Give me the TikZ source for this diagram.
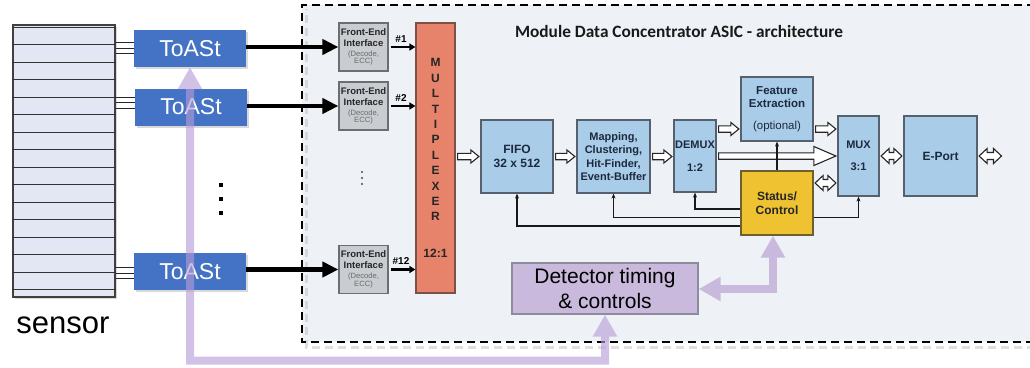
\documentclass[tikz,border=0pt]{standalone}
\usepackage{fontspec}
\setmainfont{Liberation Sans}
\newfontfamily\titlefont{Carlito}
\usetikzlibrary{arrows.meta,calc,shadows}

\definecolor{bgpanel}{HTML}{EEF2F6}
\definecolor{toastblue}{HTML}{4472C4}
\definecolor{sensorfill}{HTML}{E3E7F3}
\definecolor{fefill}{HTML}{C9CCD0}
\definecolor{feedge}{HTML}{6B6E72}
\definecolor{fegray}{HTML}{6A6A6A}
\definecolor{mplxfill}{HTML}{E8836B}
\definecolor{mplxedge}{HTML}{7A5048}
\definecolor{blkfill}{HTML}{A9CCE9}
\definecolor{blkedge}{HTML}{56616D}
\definecolor{blktext}{HTML}{1C2A3E}
\definecolor{statfill}{HTML}{EFC232}
\definecolor{statedge}{HTML}{6D6030}
\definecolor{detfill}{HTML}{C9B9DD}
\definecolor{detedge}{HTML}{8C8C9C}
\definecolor{purp}{HTML}{B79BD6}

% horizontal hollow block arrow, single head
\newcommand{\harrowR}[4]{\draw[hollow] let \p1=#1, \p2=#2 in
  ({\x1+2pt},{\y1+3.2pt}) -- ({\x2-1.5pt-#3},{\y1+3.2pt}) -- ({\x2-1.5pt-#3},{\y1+#4})
  -- ({\x2-1.5pt},\y1) -- ({\x2-1.5pt-#3},{\y1-#4}) -- ({\x2-1.5pt-#3},{\y1-3.2pt})
  -- ({\x1+2pt},{\y1-3.2pt}) -- cycle;}
% horizontal hollow block arrow, heads at both ends
\newcommand{\harrowLR}[4]{\draw[hollow] let \p1=#1, \p2=#2 in
  ({\x1+1.5pt},\y1) -- ({\x1+1.5pt+#3},{\y1+#4}) -- ({\x1+1.5pt+#3},{\y1+3.5pt})
  -- ({\x2-1.5pt-#3},{\y1+3.5pt}) -- ({\x2-1.5pt-#3},{\y1+#4}) -- ({\x2-1.5pt},\y1)
  -- ({\x2-1.5pt-#3},{\y1-#4}) -- ({\x2-1.5pt-#3},{\y1-3.5pt}) -- ({\x1+1.5pt+#3},{\y1-3.5pt})
  -- ({\x1+1.5pt+#3},{\y1-#4}) -- cycle;}

\tikzset{
  toast/.style={fill=toastblue, draw=none, text=white, inner sep=0pt,
    minimum width=112pt, minimum height=37pt, font=\fontsize{23}{26}\selectfont,
    drop shadow={opacity=0.3, shadow xshift=2pt, shadow yshift=-2pt}},
  febox/.style={fill=fefill, draw=feedge, line width=1.2pt, inner sep=0pt,
    minimum width=49pt, minimum height=48pt, align=center, text=black!85,
    font=\fontsize{7.6}{7.4}\selectfont},
  blk/.style={fill=blkfill, draw=blkedge, line width=1.2pt, inner sep=0pt, align=center,
    text=blktext, font=\bfseries\fontsize{11}{13.5}\selectfont},
  hollow/.style={draw=black!85, fill=white, line width=1.1pt, line join=miter},
  fb/.style={draw=black!90, line width=1.5pt, -{Stealth[length=5pt,width=4pt]}},
  bigarr/.style={line width=4.5pt, -{Triangle[length=16pt,width=15pt]}},
  smallarr/.style={line width=2.5pt, -{Triangle[length=6pt,width=7pt]}, shorten <=2pt},
  wire/.style={line width=0.9pt, draw=black!85},
  purpline/.style={draw=purp, line width=8pt, line join=miter,
    {Triangle[length=22pt,width=23pt]}-{Triangle[length=22pt,width=23pt]}},
  lbl/.style={font=\bfseries\fontsize{10}{12}\selectfont, inner sep=0pt}
}

\begin{document}
\begin{tikzpicture}[x=1pt,y=-1pt]
\useasboundingbox (0,0) rectangle (1030,367);

% ASIC panel
\fill[bgpanel] (302,5) rectangle (1035,342);
\draw[black!25, opacity=0.5, line width=3pt, dash pattern=on 8pt off 5pt]
  (1035,347) -- (306,347) -- (306,9);
\draw[black, line width=2.3pt, dash pattern=on 8pt off 5pt]
  (1035,5) -- (302,5) -- (302,342) -- (1035,342);

% sensor
\node[fill=sensorfill, draw=black!75, line width=1.3pt, minimum width=102pt, minimum height=272pt,
  inner sep=0pt, drop shadow={opacity=0.3, shadow xshift=2pt, shadow yshift=-2pt}] (sensor) at (64,161) {};
\foreach \k in {0,...,15}
  \draw[line width=0.9pt, black!80] ($(sensor.north west)+(0,{3+17.5*\k})$) -- ($(sensor.north east)+(0,{3+17.5*\k})$);
\node[font=\fontsize{31}{34}\selectfont, inner sep=0pt] (sensorlbl) at (63,325) {sensor};

% ToASt chips
\node[toast] (t1) at (190,48.5) {ToASt};
\node[toast] (t2) at (191,107) {ToASt};
\node[toast] (t3) at (190,271.5) {ToASt};
\foreach \d in {-6.5,-0.5,4.5} {\path ($(t1.west)+(0,\d)$) coordinate (p); \draw[wire] (p) -- (p -| sensor.east);}
\foreach \d in {-10,-4.5,1.5} {\path ($(t2.west)+(0,\d)$) coordinate (p); \draw[wire] (p) -- (p -| sensor.east);}
\foreach \d in {-4.5,1.5,6.5} {\path ($(t3.west)+(0,\d)$) coordinate (p); \draw[wire] (p) -- (p -| sensor.east);}
\foreach \yy in {185,199,213} \fill (219,\yy-2) rectangle (223,\yy+2);

% front-end interfaces
\node[febox] (fe1) at (363.5,47) {\fontsize{9.5}{10}\selectfont\bfseries Front-End\\[3.4pt]\fontsize{9.5}{10}\selectfont\bfseries Interface\\[2.8pt]\color{fegray}(Decode,\\\color{fegray}ECC)};
\node[febox] (fe2) at (363.5,106) {\fontsize{9.5}{10}\selectfont\bfseries Front-End\\[3.4pt]\fontsize{9.5}{10}\selectfont\bfseries Interface\\[2.8pt]\color{fegray}(Decode,\\\color{fegray}ECC)};
\node[febox] (fe3) at (363.5,269.5) {\fontsize{9.5}{10}\selectfont\bfseries Front-End\\[3.4pt]\fontsize{9.5}{10}\selectfont\bfseries Interface\\[2.8pt]\color{fegray}(Decode,\\\color{fegray}ECC)};
\foreach \yy in {172,178,184} \fill[black!70] (362,\yy) circle (1.1pt);

% multiplexer
\node[fill=mplxfill, draw=mplxedge, line width=1.2pt, minimum width=39pt, minimum height=270pt,
  inner sep=0pt, align=center, text=black!85, font=\bfseries\fontsize{12}{15.4}\selectfont] (mplx) at (435.5,158)
  {M\\U\\L\\T\\I\\P\\L\\E\\X\\E\\R\\[21pt]12:1};

% thick links into the front-ends
\draw[bigarr] (t1.east |- fe1.west) -- (fe1.west);
\draw[bigarr] (t2.east |- fe2.west) -- (fe2.west);
\draw[bigarr] (t3.east |- fe3.west) -- (fe3.west);
\draw[smallarr] (fe1.east) -- (fe1.east -| mplx.west);
\draw[smallarr] (fe2.east) -- (fe2.east -| mplx.west);
\draw[smallarr] (fe3.east) -- (fe3.east -| mplx.west);
\node[lbl] (n1) at (401,39) {\#1};
\node[lbl] (n2) at (401,98) {\#2};
\node[lbl] (n12) at (401,261) {\#12};

% title
\node[font=\titlefont\bfseries\fontsize{17.3}{20}\selectfont, text=black!90] (title) at (679,31)
  {Module Data Concentrator ASIC - architecture};

% processing blocks
\node[blk, minimum width=72pt, minimum height=73pt, font=\bfseries\fontsize{12}{14}\selectfont] (fifo) at (517,156.5) {FIFO\\32 x 512};
\node[blk, minimum width=73pt, minimum height=73pt] (map) at (613.5,156.5) {Mapping,\\Clustering,\\Hit-Finder,\\Event-Buffer};
\node[blk, minimum width=42pt, minimum height=72pt] (demux) at (695,156) {DEMUX\\[9pt]1:2};
\node[blk, minimum width=72pt, minimum height=64pt, font=\bfseries\fontsize{11.5}{13}\selectfont] (feat) at (777,109)
  {Feature\\Extraction\\[8.5pt]\mdseries (optional)};
\node[blk, minimum width=41pt, minimum height=80pt] (mux3) at (858.5,156) {MUX\\[9pt]3:1};
\node[blk, minimum width=73pt, minimum height=80pt, font=\bfseries\fontsize{12}{14}\selectfont] (eport) at (940.5,156) {E-Port};
\node[blk, fill=statfill, draw=statedge, text=black!85, minimum width=72pt, minimum height=64pt,
  font=\bfseries\fontsize{12}{13.5}\selectfont] (status) at (777,203) {Status/\\Control};
\node[fill=detfill, draw=detedge, line width=1.2pt, minimum width=186pt, minimum height=51pt, inner sep=0pt,
  align=center, font=\fontsize{21}{25}\selectfont] (det) at (605,288.5) {Detector timing\\\& controls};

% reference rows and outer port
\coordinate (rowA) at (0,129);
\coordinate (rowS) at (0,183);
\coordinate (rowD) at (0,209);
\coordinate (rowM) at (0,217.5);
\coordinate (rowF) at (0,226);
\coordinate (ext) at (1003,156);

% hollow data-flow arrows
\harrowR{(mplx.east |- fifo.west)}{(fifo.west)}{8pt}{6.5pt}
\harrowR{(fifo.east)}{(map.west)}{8pt}{6.5pt}
\harrowR{(map.east)}{(demux.west)}{8pt}{6.5pt}
\harrowR{(demux.east |- rowA)}{(feat.west |- rowA)}{8pt}{6.5pt}
\harrowR{(feat.east |- rowA)}{(mux3.west |- rowA)}{8pt}{6.5pt}
\harrowR{(demux.east |- mux3.west)}{(mux3.west)}{22pt}{9.5pt}
\harrowLR{(status.east |- rowS)}{(mux3.west |- rowS)}{8pt}{7.5pt}
\harrowLR{(mux3.east)}{(eport.west)}{8pt}{7.5pt}
\harrowLR{(eport.east)}{(ext)}{8pt}{7.5pt}

% control lines
\draw[fb] (status.north) -- (feat.south);
\draw[fb] (status.west |- rowD) -| (demux.south);
\draw[fb] (status.west |- rowM) -| (map.south);
\draw[fb] (status.west |- rowF) -| (fifo.south);
\draw[fb] (status.east |- rowM) -| (mux3.south);

% timing and control distribution
\begin{scope}[transparency group, opacity=0.62]
\draw[purpline] (t1.south) |- ($(det.south)+(0,46)$) -- (det.south);
\end{scope}
\draw[purpline, draw=detfill] (det.east |- 0,289) -| ([xshift=-4pt]status.south);
\end{tikzpicture}
\end{document}
